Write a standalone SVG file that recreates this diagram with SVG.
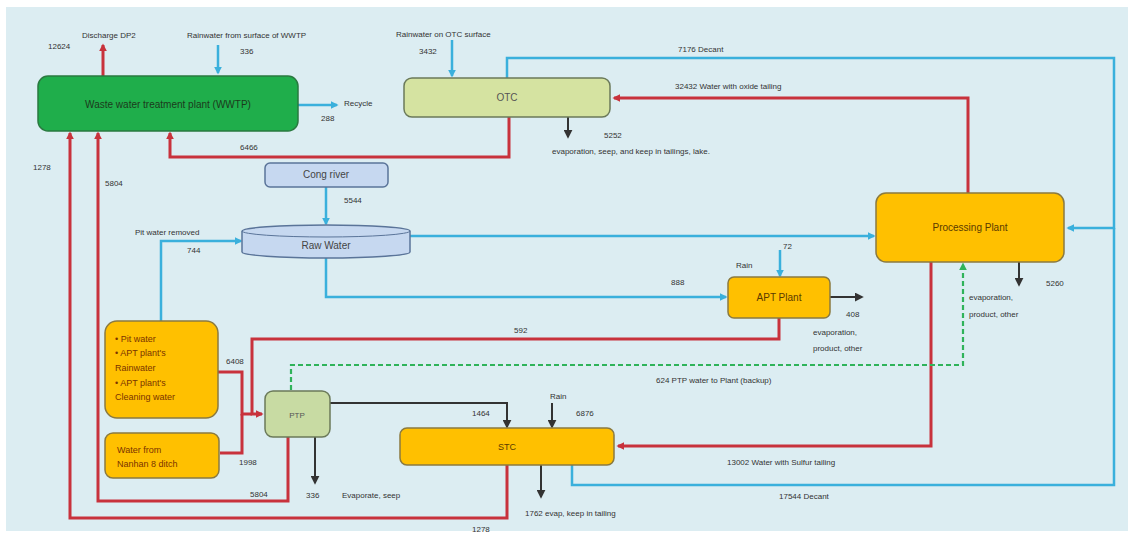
<svg xmlns="http://www.w3.org/2000/svg" width="1134" height="535" viewBox="0 0 1134 535">
<style>
text{font-family:"Liberation Sans",Arial,sans-serif;fill:#333}
.l{font-size:8px}
.n{font-size:10px;text-anchor:middle}
.o{fill:#7a3300}
.red{fill:none;stroke:#c8323c;stroke-width:3}
.blue{fill:none;stroke:#3ab0dc;stroke-width:2.5}
.blk{fill:none;stroke:#333;stroke-width:2}
.grn{fill:none;stroke:#2fb35a;stroke-width:2.2;stroke-dasharray:5 3}
.box{stroke-width:1.5}
</style>
<defs>
<marker id="ar" viewBox="0 0 10 10" refX="8" refY="5" markerWidth="8" markerHeight="8" markerUnits="userSpaceOnUse" orient="auto"><path d="M0,0L10,5L0,10z" fill="#c8323c"/></marker>
<marker id="ab" viewBox="0 0 10 10" refX="8" refY="5" markerWidth="8" markerHeight="8" markerUnits="userSpaceOnUse" orient="auto"><path d="M0,0L10,5L0,10z" fill="#3ab0dc"/></marker>
<marker id="ak" viewBox="0 0 10 10" refX="8" refY="5" markerWidth="9" markerHeight="9" markerUnits="userSpaceOnUse" orient="auto"><path d="M0,0L10,5L0,10z" fill="#333"/></marker>
<marker id="ag" viewBox="0 0 10 10" refX="8" refY="5" markerWidth="8" markerHeight="8" markerUnits="userSpaceOnUse" orient="auto"><path d="M0,0L10,5L0,10z" fill="#2fb35a"/></marker>
</defs>
<rect x="0" y="0" width="1134" height="535" fill="#ffffff"/>
<rect x="6" y="7" width="1122" height="524" fill="#dcedf2"/>

<g id="connectors">
<path class="red" d="M103,76L103,45" marker-end="url(#ar)"/>
<path class="red" d="M509,117L509,157L170,157L170,133" marker-end="url(#ar)"/>
<path class="red" d="M968,193L968,98L614,98" marker-end="url(#ar)"/>
<path class="red" d="M931,262L931,446L618,446" marker-end="url(#ar)"/>
<path class="red" d="M779,318L779,339L252,339L252,414L262,414" marker-end="url(#ar)"/>
<path class="red" d="M218,372L242,372L242,414L252,414"/>
<path class="red" d="M220,453L242,453L242,414"/>
<path class="red" d="M288,437L288,501L98,501L98,133" marker-end="url(#ar)"/>
<path class="red" d="M507,465L507,518L70,518L70,133" marker-end="url(#ar)"/>

<path class="blue" d="M218,45L218,73" marker-end="url(#ab)"/>
<path class="blue" d="M452,40L452,76" marker-end="url(#ab)"/>
<path class="blue" d="M298,105L337,105" marker-end="url(#ab)"/>
<path class="blue" d="M507,78L507,58L1114,58L1114,228L1068,228" marker-end="url(#ab)"/>
<path class="blue" d="M572,465L572,485L1114,485L1114,228"/>
<path class="blue" d="M326,187L326,224" marker-end="url(#ab)"/>
<path class="blue" d="M410,236L874,236" marker-end="url(#ab)"/>
<path class="blue" d="M326,258L326,297L726,297" marker-end="url(#ab)"/>
<path class="blue" d="M161,321L161,241L241,241" marker-end="url(#ab)"/>
<path class="blue" d="M780,250L780,276" marker-end="url(#ab)"/>

<path class="blk" d="M568,117L568,137" marker-end="url(#ak)"/>
<path class="blk" d="M1019,262L1019,285" marker-end="url(#ak)"/>
<path class="blk" d="M830,297L862,297" marker-end="url(#ak)"/>
<path class="blk" d="M330,403L507,403L507,427" marker-end="url(#ak)"/>
<path class="blk" d="M552,403L552,427" marker-end="url(#ak)"/>
<path class="blk" d="M315,437L315,483" marker-end="url(#ak)"/>
<path class="blk" d="M541,465L541,497" marker-end="url(#ak)"/>

<path class="grn" d="M291,390L291,365L963,365L963,264" marker-end="url(#ag)"/>
</g>

<g id="wwtp"><rect class="box" x="38" y="76" width="260" height="55" rx="10" fill="#1fae4b" stroke="#2a7a40"/><text class="n" x="168" y="108" style="fill:#1c3a1c">Waste water treatment plant (WWTP)</text></g>
<g id="otc"><rect class="box" x="404" y="78" width="206" height="39" rx="8" fill="#d5e3a1" stroke="#6b7a5a"/><text class="n" x="507" y="101" style="fill:#555">OTC</text></g>
<g id="cong"><rect class="box" x="265" y="163" width="123" height="24" rx="5" fill="#c6d8f0" stroke="#5a7499"/><text class="n" x="326" y="178" style="fill:#444">Cong river</text></g>
<g id="raw"><path class="box" d="M242,231A84,6 0 0,1 410,231L410,252A84,6 0 0,1 242,252Z" fill="#c6d8f0" stroke="#5a7499"/><path d="M242,231A84,6 0 0,0 410,231" fill="none" stroke="#5a7499" stroke-width="1"/><text class="n" x="326" y="249" style="fill:#444">Raw Water</text></g>
<g id="pp"><rect class="box" x="876" y="193" width="188" height="69" rx="10" fill="#ffc000" stroke="#8a7a40"/><text class="n" x="970" y="231" style="fill:#5a3a00">Processing Plant</text></g>
<g id="apt"><rect class="box" x="728" y="277" width="102" height="41" rx="6" fill="#ffc000" stroke="#8a7a40"/><text class="n" x="779" y="301" style="fill:#5a3a00">APT Plant</text></g>
<g id="pit"><rect class="box" x="105" y="321" width="113" height="97" rx="12" fill="#ffc000" stroke="#8a7a40"/>
<text class="l o" style="font-size:9px" x="115" y="342">• Pit water</text>
<text class="l o" style="font-size:9px" x="115" y="356">• APT plant's</text>
<text class="l o" style="font-size:9px" x="115" y="371">Rainwater</text>
<text class="l o" style="font-size:9px" x="115" y="386">• APT plant's</text>
<text class="l o" style="font-size:9px" x="115" y="400">Cleaning water</text></g>
<g id="nanhan"><rect class="box" x="105" y="433" width="114" height="45" rx="8" fill="#ffc000" stroke="#8a7a40"/>
<text class="l o" style="font-size:9px" x="117" y="453">Water from</text>
<text class="l o" style="font-size:9px" x="117" y="467">Nanhan 8 ditch</text></g>
<g id="ptp"><rect class="box" x="265" y="391" width="65" height="46" rx="8" fill="#c8dba3" stroke="#6b7a5a"/><text class="n" x="297" y="418" style="font-size:8px;fill:#555">PTP</text></g>
<g id="stc"><rect class="box" x="400" y="428" width="214" height="37" rx="7" fill="#ffc000" stroke="#8a7a40"/><text class="n" x="507" y="450" style="font-size:9px;fill:#5a3a00">STC</text></g>

<g id="labels">
<text class="l" x="82" y="38">Discharge DP2</text>
<text class="l" x="48" y="49">12624</text>
<text class="l" x="187" y="38">Rainwater from surface of WWTP</text>
<text class="l" x="240" y="54">336</text>
<text class="l" x="344" y="106">Recycle</text>
<text class="l" x="321" y="121">288</text>
<text class="l" x="396" y="37">Rainwater on OTC surface</text>
<text class="l" x="419" y="54">3432</text>
<text class="l" x="678" y="52">7176  Decant</text>
<text class="l" x="675" y="89">32432  Water with oxide tailing</text>
<text class="l" x="604" y="138">5252</text>
<text class="l" x="552" y="154">evaporation, seep, and keep in tailings, lake.</text>
<text class="l" x="240" y="150">6466</text>
<text class="l" x="33" y="170">1278</text>
<text class="l" x="105" y="186">5804</text>
<text class="l" x="344" y="203">5544</text>
<text class="l" x="135" y="235">Pit water removed</text>
<text class="l" x="187" y="253">744</text>
<text class="l" x="736" y="268">Rain</text>
<text class="l" x="783" y="249">72</text>
<text class="l" x="671" y="285">888</text>
<text class="l" x="514" y="333">592</text>
<text class="l" x="846" y="317">408</text>
<text class="l" x="813" y="335">evaporation,</text>
<text class="l" x="813" y="351">product, other</text>
<text class="l" x="1046" y="286">5260</text>
<text class="l" x="969" y="300">evaporation,</text>
<text class="l" x="969" y="317">product, other</text>
<text class="l" x="656" y="383">624 PTP water to Plant (backup)</text>
<text class="l" x="226" y="364">6408</text>
<text class="l" x="472" y="416">1464</text>
<text class="l" x="550" y="399">Rain</text>
<text class="l" x="576" y="416">6876</text>
<text class="l" x="239" y="465">1998</text>
<text class="l" x="250" y="497">5804</text>
<text class="l" x="306" y="498">336</text>
<text class="l" x="342" y="498">Evaporate, seep</text>
<text class="l" x="525" y="516">1762  evap, keep in tailing</text>
<text class="l" x="472" y="532">1278</text>
<text class="l" x="727" y="465">13002  Water with Sulfur tailing</text>
<text class="l" x="779" y="499">17544  Decant</text>
</g>
</svg>
